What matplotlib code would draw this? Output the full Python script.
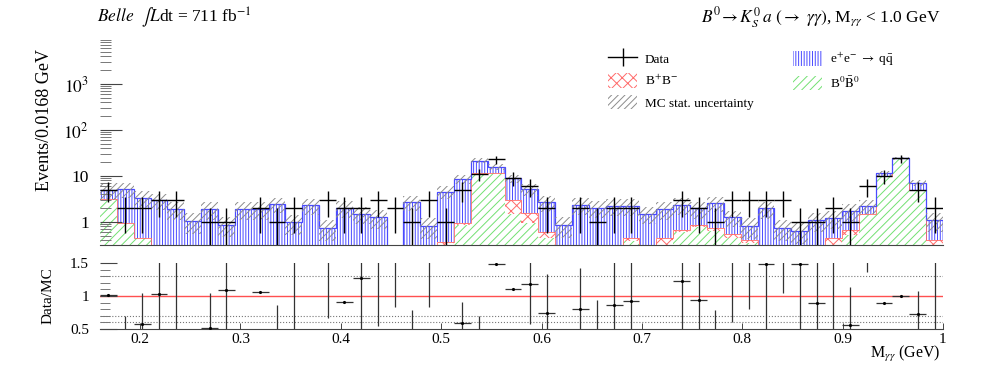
import numpy as np
import matplotlib.pyplot as plt
from matplotlib.lines import Line2D
from matplotlib.patches import Patch
from matplotlib.ticker import AutoMinorLocator, NullLocator

plt.rcParams['font.family'] = ['Liberation Serif', 'DejaVu Serif']
plt.rcParams['mathtext.fontset'] = 'stix'
plt.rcParams['hatch.linewidth'] = 0.7

# binning: 50 bins of 0.0168 GeV between 0.16 and 1.0
x_lo, x_hi, n_bins = 0.16, 1.0, 50
edges = np.linspace(x_lo, x_hi, n_bins + 1)
centers = 0.5 * (edges[1:] + edges[:-1])
binw = edges[1] - edges[0]

# MC components (events / bin)
b0b0 = [3.16, 0.95, 0.45, 0, 0, 0, 0, 0, 0, 0,
        0, 0, 0, 0, 0, 0, 0, 0, 0, 0,
        0, 0.85, 11.4, 11.4, 1.49, 0.95, 0.45, 0, 0, 0,
        0, 0.38, 0, 0, 0.62, 0.77, 0.65, 0.46, 0.35, 0,
        0, 0, 0, 0, 0.52, 1.49, 10.0, 24.2, 4.96, 0.30]
bpbm = [0, 0, 0, 0, 0, 0, 0, 0, 0, 0,
        0, 0, 0, 0, 0, 0, 0, 0, 0, 0,
        0.37, 0.10, 0, 0, 1.50, 0.64, 0.15, 0, 0, 0,
        0, 0.06, 0, 0.46, 0.05, 0.09, 0.10, 0.08, 0.05, 0,
        0, 0, 0, 0.45, 0.15, 0, 0, 0, 0, 0.11]
qqbar = [1.80, 4.18, 2.93, 2.96, 1.89, 1.05, 1.89, 0.87, 1.89, 1.89,
         2.46, 0.98, 2.31, 0.74, 2.05, 1.49, 1.27, 0.20, 2.76, 0.82,
         4.18, 7.55, 10.2, 4.10, 5.90, 3.54, 2.08, 0.86, 2.34, 2.05,
         2.23, 1.79, 1.49, 1.46, 1.67, 1.12, 1.80, 0.73, 0.42, 1.98,
         0.74, 0.64, 1.10, 0.75, 1.06, 0.77, 1.40, 0.0, 2.20, 0.69]
mc_unc = [1.9, 1.8, 1.3, 1.1, 0.8, 0.5, 0.8, 0.4, 0.8, 0.8,
          0.9, 0.45, 0.9, 0.35, 0.8, 0.6, 0.55, 0.1, 1.0, 0.4,
          1.4, 1.9, 2.6, 2.3, 1.8, 1.4, 1.0, 0.4, 0.9, 0.8,
          0.9, 0.9, 0.6, 0.8, 0.9, 0.8, 0.9, 0.5, 0.4, 0.8,
          0.35, 0.3, 0.5, 0.5, 0.7, 0.8, 1.2, 1.5, 1.0, 0.5]

# data counts
data = [5, 2, 2, 3, 3, 0, 1, 1, 0, 2,
        1, 2, 0, 3, 2, 2, 3, 2, 1, 3,
        1, 5, 11, 23, 9, 6, 2, 0, 2, 1,
        2, 2, 0, 0, 3, 2, 1, 3, 3, 3,
        3, 1, 1, 2, 1, 6, 10, 24, 5, 2]

# ratio panel (Data/MC) as drawn, nan = not drawn
ratio = [1.015, 0.30, 0.575, 1.03, 1.8, np.nan, 0.51, 1.09, np.nan, 1.065,
         0.35, 1.6, np.nan, 2.0, 0.905, 1.27, 2.0, 2.5, 0.30, 2.5,
         np.nan, 0.595, 0.40, 1.485, 1.10, 1.18, 0.74, np.nan, 0.80, 0.40,
         0.86, 0.92, np.nan, np.nan, 1.23, 0.94, 0.30, 2.5, 4.8, 1.485,
         5.4, 1.485, 0.89, 1.6, 0.56, 3.2, 0.89, 1.0, 0.73, 1.7]
ratio_err = [0.0, 0.40, 0.47, 0.8, 1.5, np.nan, 0.54, 0.7, np.nan, 0.0,
             0.51, 1.2, np.nan, 1.34, 0.0, 0.8, 1.46, 1.67, 0.49, 1.67,
             np.nan, 0.32, 0.30, 0.0, 0.0, 0.6, 0.59, np.nan, 0.63, 0.54,
             0.9, 0.8, np.nan, np.nan, 0.8, 0.7, 0.49, 1.89, 4.0, 1.0,
             4.36, 1.1, 0.9, 1.2, 0.58, 1.83, 0.0, 0.0, 0.34, 1.3]
ref_lines = [1.3, 0.7, 0.6]

green_col = '#72e072'
red_col = '#ff6a6a'
blue_col = '#4a4aff'
gray_col = '#8c8c8c'

fig = plt.figure(figsize=(9.97, 3.68), dpi=100)
ax = fig.add_axes([0.1003, 0.3342, 0.8455, 0.568])
rax = fig.add_axes([0.1003, 0.106, 0.8455, 0.1793])

g = np.array(b0b0)
r = np.array(bpbm)
q = np.array(qqbar)
c1 = g
c2 = g + r
c3 = g + r + q
unc = np.array(mc_unc)

# stacked histogram
ax.stairs(c1, edges, baseline=0, fill=True, facecolor='none', edgecolor=green_col,
          hatch='////', lw=0)
ax.stairs(c2, edges, baseline=c1, fill=True, facecolor='none', edgecolor=red_col,
          hatch='xxx', lw=0)
ax.stairs(c3, edges, baseline=c2, fill=True, facecolor='none', edgecolor=blue_col,
          hatch='||||||', lw=0)
ax.stairs(c2, edges, baseline=None, color=red_col, lw=0.6)
ax.stairs(c3, edges, baseline=None, color=blue_col, lw=0.9)

# MC stat. uncertainty band
ax.stairs(c3 + unc, edges, baseline=np.clip(c3 - unc, 0.01, None), fill=True,
          facecolor='none', edgecolor=gray_col, hatch='/////', lw=0)

d = np.array(data, dtype=float)
m = d > 0
ax.errorbar(centers[m], d[m], xerr=binw / 2, yerr=np.sqrt(d[m]), fmt='none',
            ecolor='k', elinewidth=1.0, capsize=0, zorder=5)

ax.set_yscale('log')
ax.set_xlim(x_lo, x_hi)
ax.set_ylim(0.316, 1.1e4)
ax.set_yticks([1, 10, 100, 1000], ['1', '10', '$10^2$', '$10^3$'])
ax.tick_params(axis='y', which='major', direction='in', length=16, width=0.8,
               labelsize=12.5, pad=8, colors='#444444', labelcolor='k')
ax.tick_params(axis='y', which='minor', direction='in', length=8, width=0.7,
               colors='#777777')
ax.xaxis.set_major_locator(NullLocator())
ax.xaxis.set_minor_locator(NullLocator())
for s in ['left', 'top', 'right']:
    ax.spines[s].set_visible(False)
ax.spines['bottom'].set_color('#444444')
ax.spines['bottom'].set_linewidth(0.8)
ax.set_ylabel('Events/0.0168 GeV', fontsize=13)
ax.yaxis.set_label_coords(-0.056, 0.6)

# ratio panel
rax.axhline(1.0, color='#ff5050', lw=1.0, zorder=1)
for v in ref_lines:
    rax.axhline(v, color='#777777', ls=':', lw=0.8, zorder=1)
rv = np.array(ratio)
re = np.array(ratio_err)
rm = ~np.isnan(rv)
rax.errorbar(centers[rm], rv[rm], xerr=binw / 2, yerr=re[rm], fmt='.', ms=2.5,
             color='k', ecolor='#333333', elinewidth=0.9, capsize=0, zorder=3)
rax.set_xlim(x_lo, x_hi)
rax.set_ylim(0.5, 1.5)
rax.set_yticks([0.5, 1, 1.5], ['0.5', '1', '1.5'])
rax.yaxis.set_minor_locator(AutoMinorLocator(5))
xt = [0.2, 0.3, 0.4, 0.5, 0.6, 0.7, 0.8, 0.9, 1.0]
rax.set_xticks(xt, ['0.2', '0.3', '0.4', '0.5', '0.6', '0.7', '0.8', '0.9', '1'])
rax.tick_params(axis='y', which='major', direction='in', length=12, width=0.8,
                labelsize=11, pad=8, colors='#444444', labelcolor='k')
rax.tick_params(axis='y', which='minor', direction='in', length=7, width=0.7,
                colors='#777777')
rax.tick_params(axis='x', which='major', direction='in', length=4, width=0.7,
                labelsize=11, pad=3, colors='#444444', labelcolor='k')
for s in ['left', 'top', 'right']:
    rax.spines[s].set_visible(False)
rax.spines['bottom'].set_color('#444444')
rax.spines['bottom'].set_linewidth(0.8)
rax.set_ylabel('Data/MC', fontsize=11)
rax.yaxis.set_label_coords(-0.054, 0.5)
fig.text(0.943, 0.038, r'M$_{\gamma\gamma}$ (GeV)', ha='right', va='center', fontsize=11.5)

# header texts
fig.text(0.097, 0.951, r'$\it{Belle}$  $\int$$L$dt = 711 fb$^{-1}$', ha='left', va='center',
         fontsize=12.5)
fig.text(0.943, 0.951,
         r'$B^0\!\rightarrow K^0_S\, a\ (\rightarrow\ \gamma\gamma)$, M$_{\gamma\gamma}$ < 1.0 GeV',
         ha='right', va='center', fontsize=12.5)

# legend
handles = [Line2D([], [], color='k', lw=1.0, marker='|', ms=13, mew=1.0),
           Patch(facecolor='none', edgecolor=red_col, hatch='xxx', lw=0),
           Patch(facecolor='none', edgecolor=gray_col, hatch='/////', lw=0),
           Patch(facecolor='none', edgecolor=blue_col, hatch='||||||', lw=0),
           Patch(facecolor='none', edgecolor=green_col, hatch='////', lw=0)]
labels = ['Data', r'B$^{+}$B$^{-}$', 'MC stat. uncertainty',
          r'e$^{+}$e$^{-}$ $\rightarrow$ q$\bar{\mathrm{q}}$', r'B$^{0}\bar{\mathrm{B}}^{0}$']
fig.legend(handles, labels, ncol=2, loc='upper left', bbox_to_anchor=(0.598, 0.895),
           frameon=False, fontsize=9.5, handlelength=2.2, handleheight=1.3,
           columnspacing=3.0, labelspacing=0.55, handletextpad=0.6)

fig.savefig('out.png', dpi=100)
